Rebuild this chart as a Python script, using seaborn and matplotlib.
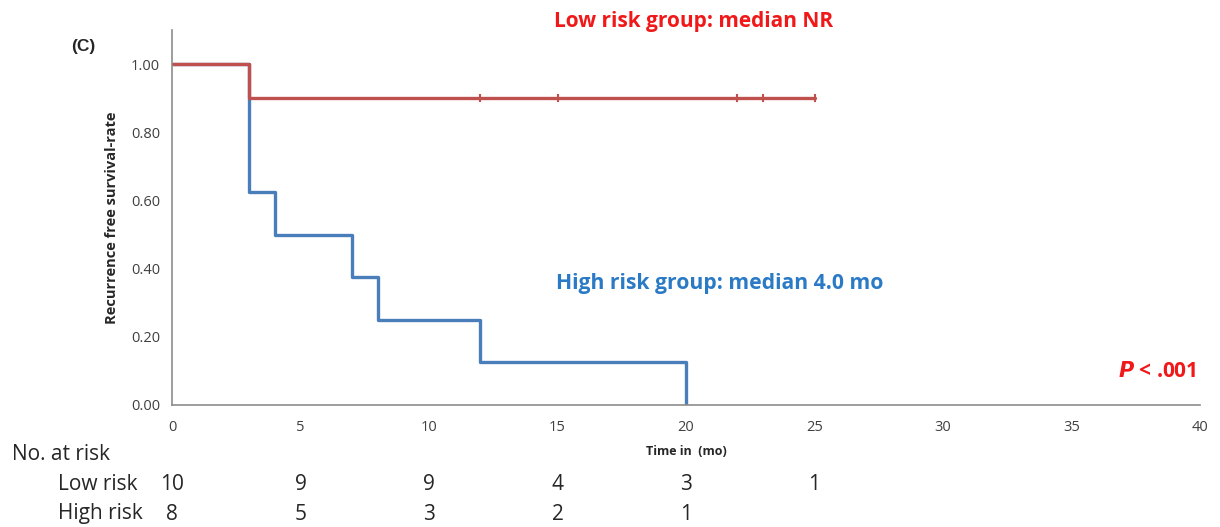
import matplotlib
matplotlib.use("Agg")
import matplotlib.pyplot as plt
import pandas as pd
import seaborn as sns

# Kaplan-Meier step data
low_time = [0, 3, 25]
low_surv = [1.0, 0.9, 0.9]
low_censor_time = [12, 15, 22, 23, 25]
low_censor_surv = [0.9, 0.9, 0.9, 0.9, 0.9]

high_time = [0, 3, 4, 7, 8, 12, 20]
high_surv = [1.0, 0.625, 0.5, 0.375, 0.25, 0.125, 0.0]

# numbers at risk table
risk_times = [0, 5, 10, 15, 20, 25]
low_at_risk = [10, 9, 9, 4, 3, 1]
high_at_risk = [8, 5, 3, 2, 1]

x_ticks = [0, 5, 10, 15, 20, 25, 30, 35, 40]
y_ticks = [0.0, 0.2, 0.4, 0.6, 0.8, 1.0]

red_line = "#c0504d"
blue_line = "#4a7ebb"
red_text = "#f01818"
blue_text = "#2a7ac6"
grey = "#8c8c8c"

sns.set_style("white")
plt.rcParams["font.family"] = ["Open Sans", "DejaVu Sans"]

df_low = pd.DataFrame({"time": low_time, "surv": low_surv})
df_high = pd.DataFrame({"time": high_time, "surv": high_surv})
df_cens = pd.DataFrame({"time": low_censor_time, "surv": low_censor_surv})

fig = plt.figure(figsize=(12.2, 5.27), dpi=100)
ax = fig.add_axes([172 / 1220, 1 - 405 / 527, 1028 / 1220, 375 / 527])

sns.lineplot(data=df_high, x="time", y="surv", drawstyle="steps-post",
             color=blue_line, linewidth=2.4, ax=ax, estimator=None)
sns.lineplot(data=df_low, x="time", y="surv", drawstyle="steps-post",
             color=red_line, linewidth=2.4, ax=ax, estimator=None)
ax.plot(df_cens.time, df_cens.surv, linestyle="none", marker="|",
        markersize=6, markeredgewidth=1.5, color=red_line)

ax.set_xlim(0, 40)
ax.set_ylim(0, 1.1)
ax.set_xticks(x_ticks)
ax.set_yticks(y_ticks)
ax.set_yticklabels([f"{v:.2f}" for v in y_ticks])
ax.tick_params(axis="both", colors=grey, labelcolor="#404040", labelsize=10.5,
               direction="out", length=5, width=1)
ax.tick_params(axis="x", pad=6)
for side in ["top", "right"]:
    ax.spines[side].set_visible(False)
for side in ["left", "bottom"]:
    ax.spines[side].set_color(grey)
    ax.spines[side].set_linewidth(1.2)

ax.set_xlabel("Time in  (mo)", fontsize=9, fontweight="bold", labelpad=7)
ax.set_ylabel("Recurrence free survival-rate", fontsize=10.5, fontweight="bold", labelpad=9)

# annotations
fig.text(83 / 1220, 1 - 46 / 527, "(C)", fontsize=12.5, fontweight="bold",
         ha="center", va="center", family="Liberation Sans")
fig.text(694 / 1220, 1 - 21 / 527, "Low risk group: median NR", color=red_text,
         fontsize=15, fontweight="bold", ha="center", va="center")
ax.text(14.95, 0.355, "High risk group: median 4.0 mo", color=blue_text,
        fontsize=15.2, fontweight="bold", ha="left", va="center")
ax.text(0.997, 0.09, "$\\bfit{P}$ < .001", transform=ax.transAxes, color=red_text,
        fontsize=15, fontweight="bold", ha="right", va="center")

# number at risk table
fig.text(12 / 1220, 1 - 454 / 527, "No. at risk", fontsize=15, va="center")
fig.text(58 / 1220, 1 - 484 / 527, "Low risk", fontsize=15, va="center")
fig.text(58 / 1220, 1 - 514 / 527, "High risk", fontsize=15, va="center")
tr = ax.get_xaxis_transform()
for t, n in zip(risk_times, low_at_risk):
    ax.text(t, -79 / 375, str(n), transform=tr, fontsize=15, ha="center", va="center")
for t, n in zip(risk_times, high_at_risk):
    ax.text(t, -109 / 375, str(n), transform=tr, fontsize=15, ha="center", va="center")

fig.savefig("out.png", dpi=100)
